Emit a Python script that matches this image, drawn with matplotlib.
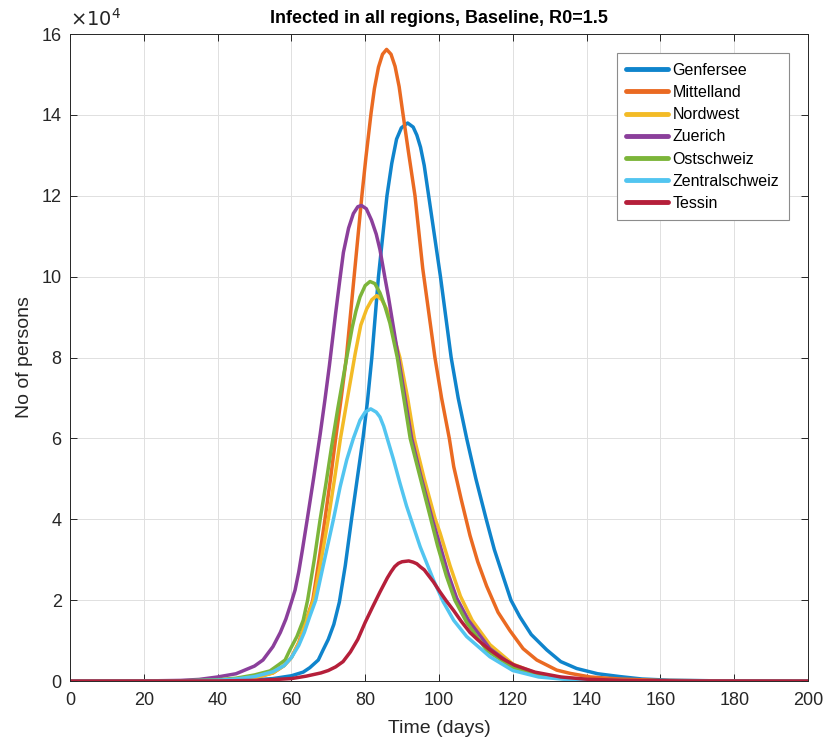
import matplotlib
matplotlib.use("Agg")
import matplotlib.pyplot as plt
from matplotlib.ticker import FuncFormatter, MultipleLocator

plt.rcParams['font.family'] = ['Liberation Sans', 'DejaVu Sans']

# values: day -> infected (thousands)
genfersee_t = [0, 30, 40, 50, 55, 60, 63.2, 65, 67.3, 68.6, 70, 71.5, 73, 74.6, 76.3, 78, 79.4, 80.6,
               81.8, 83.6, 85.9, 87.2, 88.5, 89.8, 91.5, 93, 94, 95, 96, 97.2, 98.8, 100.4, 103.3,
               105.2, 107.5, 110, 112.8, 115, 117.4, 119.5, 121.9, 125, 129.2, 133, 137.3, 143, 149,
               155, 162.5, 175, 200]
genfersee_k = [0, 0.01, 0.05, 0.3, 0.6, 1.3, 2.2, 3.3, 5.2, 7.7, 10.3, 14, 19.5, 28.5, 40, 51, 60, 69,
               80, 100, 120, 128, 134, 136.8, 138, 137, 135, 132, 127.5, 120, 110, 100, 80,
               70, 60, 50, 40, 32.5, 25.8, 20, 15.9, 11.5, 7.7, 4.8, 3.1, 1.8, 1.1,
               0.5, 0.2, 0.05, 0]

mittelland_t = [0, 30, 40, 45, 50, 55, 58, 60, 62, 64, 65.8, 67.5, 69.1, 70.6, 72, 73.5, 74.9, 77,
                79.1, 80.2, 81.6, 82.5, 83.6, 84.7, 85.8, 87, 88.1, 89.2, 90.2, 91.7, 93.5, 95.6,
                98.9, 100.7, 102.8, 104, 106, 108.4, 110.5, 112.9, 116, 119.2, 122.8, 126.5, 131.9,
                135.5, 141, 149, 160, 175, 200]
mittelland_k = [0, 0.02, 0.15, 0.35, 0.8, 2, 3.8, 5.8, 9.5, 15, 20, 30, 40, 50, 60, 70, 80, 100,
                120, 129.5, 140.5, 146.5, 151.8, 155, 156.2, 155, 152, 147, 140.5, 131, 120, 102,
                80, 70, 60, 53, 45, 36, 29.5, 23.5, 17, 12.5, 8, 5.2, 2.7,
                1.9, 1.0, 0.5, 0.15, 0.04, 0]

nordwest_t = [0, 30, 40, 45, 50, 55, 58, 60, 62.3, 64, 66, 68, 70, 71.7, 73.3, 75.2, 77.3, 78.8,
              80.4, 81.8, 83.1, 84.5, 85.8, 87, 88, 89.4, 91.5, 93.3, 96, 99, 100.3, 103, 105.8,
              109, 113.8, 120, 127, 135, 145, 160, 200]
nordwest_k = [0, 0.02, 0.15, 0.35, 0.8, 2, 3.8, 5.8, 10, 15, 20, 29.5, 40, 50, 60, 70, 81, 88,
              92, 94.3, 95.3, 94.3, 92, 88.5, 84.5, 80, 70, 60, 50, 40, 36.6, 28.5, 21,
              15, 9, 4.2, 1.7, 0.6, 0.2, 0.04, 0]

zuerich_t = [0, 20, 30, 35, 40, 45, 50, 52.3, 55, 57, 58.5, 60, 61, 62, 63, 64.3, 66, 67.8, 69.1,
             70.3, 72, 73.1, 74.1, 75.5, 76.8, 78, 79, 80.3, 81.7, 83, 84, 85.3, 86.3, 89, 92.6, 95,
             98.2, 100.3, 102.5, 104.8, 108, 113.8, 120, 127, 135, 145, 160, 200]
zuerich_k = [0, 0.02, 0.15, 0.4, 1.0, 1.8, 3.7, 5.2, 8.5, 12, 15.3, 19.5, 22.5, 27, 32.5, 40, 50, 61,
             69.6, 78, 91, 99, 106, 112, 115.6, 117.3, 117.6, 116.8, 114, 110.5, 106.7, 100, 95,
             80, 60, 51, 40, 33.5, 26.5, 20.5, 15, 8, 3.8, 1.5, 0.5, 0.15, 0.03, 0]

ostschweiz_t = [0, 30, 40, 45, 50, 54.2, 56.5, 58.3, 59.6, 61.5, 63.2, 64.4, 66.2, 67.8, 69.4, 70.9,
                72.6, 75, 76.5, 77.5, 78.6, 80, 81.3, 82.6, 84, 85.3, 86.7, 88.7, 92.2, 95, 97.8,
                99.6, 102, 104.3, 107.5, 113, 120, 127, 135, 145, 160, 200]
ostschweiz_k = [0, 0.05, 0.3, 0.7, 1.5, 2.5, 4, 5.2, 7.7, 11, 15, 20, 30, 40, 49, 58,
                67.5, 80, 87.5, 91.5, 95, 97.8, 98.8, 98.3, 96, 92.8, 88.5, 80, 60, 50, 40,
                33.5, 26, 20, 14.5, 7.5, 3.3, 1.3, 0.45, 0.12, 0.02, 0]

zentralschweiz_t = [0, 30, 40, 45, 50, 55, 58, 60, 62, 63.5, 65, 66.6, 68.5, 71.4, 73.2, 75, 76.8,
                    78.6, 80, 81.5, 83, 84, 85, 86.3, 87.6, 89.4, 91.2, 94.9, 98.5, 101.2, 104, 107.5,
                    113.8, 120, 127, 135, 145, 160, 200]
zentralschweiz_k = [0, 0.03, 0.2, 0.5, 1.1, 2.3, 3.8, 5.8, 8.8, 12, 16, 20, 28, 40, 48, 54.7, 60,
                    64.5, 66.5, 67.3, 66.5, 65.3, 63, 59, 55, 49, 43.3, 33.2, 25, 19.5, 15, 11,
                    6, 2.6, 1.0, 0.35, 0.1, 0.02, 0]

tessin_t = [0, 40, 50, 55, 60, 64, 68, 70, 72, 74, 76, 78, 80, 82, 84, 86, 87, 88, 89, 90, 91.8, 93,
            94, 95, 96, 97, 98.5, 100.3, 102, 104, 106, 108.4, 110.5, 113.5, 117, 120.5, 126, 133,
            140, 150, 165, 200]
tessin_k = [0, 0.02, 0.15, 0.35, 0.6, 1.2, 2.0, 2.6, 3.5, 4.8, 7.2, 10.3, 14.5, 18.3, 22, 25.5, 27,
            28.3, 29.1, 29.5, 29.7, 29.4, 29, 28.2, 27.5, 26.3, 24.5, 22, 19.8, 17.4, 14.8, 12,
            10.2, 7.9, 5.6, 3.9, 2.2, 1.0, 0.45, 0.15, 0.03, 0]

series = [
    ("Genfersee", genfersee_t, genfersee_k, "#0f84cc"),
    ("Mittelland", mittelland_t, mittelland_k, "#ea6a22"),
    ("Nordwest", nordwest_t, nordwest_k, "#f3bb26"),
    ("Zuerich", zuerich_t, zuerich_k, "#8b3f9b"),
    ("Ostschweiz", ostschweiz_t, ostschweiz_k, "#7cb53a"),
    ("Zentralschweiz", zentralschweiz_t, zentralschweiz_k, "#52c5f0"),
    ("Tessin", tessin_t, tessin_k, "#b51f3a"),
]

fig = plt.figure(figsize=(8.38, 7.40), dpi=100)
ax = fig.add_axes([0.0835, 0.0797, 0.8807, 0.8743])

for name, t, k, col in series:
    ax.plot(t, [v * 1000 for v in k], color=col, lw=2.5, label=name,
            solid_capstyle='round', solid_joinstyle='round')

ax.set_xlim(0, 200)
ax.set_ylim(0, 160000)
ax.xaxis.set_major_locator(MultipleLocator(20))
ax.yaxis.set_major_locator(MultipleLocator(20000))
ax.yaxis.set_major_formatter(FuncFormatter(lambda v, p: "%d" % round(v / 1e4)))

dark = "#262626"
ax.grid(True, color="#e0e0e0", lw=0.7)
ax.set_axisbelow(True)
for s in ax.spines.values():
    s.set_color(dark)
    s.set_linewidth(0.7)
ax.tick_params(direction='in', length=5, width=0.7, colors=dark, labelsize=13,
               top=True, right=True)
ax.tick_params(axis='x', pad=8)
ax.tick_params(axis='y', pad=6)

ax.text(0, 1.006, r"$\times10^{4}$", transform=ax.transAxes, fontsize=14, color=dark,
        ha='left', va='bottom')
ax.set_title("Infected in all regions, Baseline, R0=1.5", fontsize=13, fontweight='bold', pad=8)
ax.set_xlabel("Time (days)", fontsize=14, color=dark, labelpad=8)
ax.set_ylabel("No of persons", fontsize=14, color=dark, labelpad=6)

leg = ax.legend(loc='upper right', fontsize=11.5, handlelength=2.6, handletextpad=0.3,
                labelspacing=0.45, borderaxespad=1.2, fancybox=False, framealpha=1,
                edgecolor="#8c8c8c", borderpad=0.6)
leg.get_frame().set_linewidth(0.8)
for line in leg.get_lines():
    line.set_linewidth(3.5)

fig.savefig("out.png", dpi=100)
